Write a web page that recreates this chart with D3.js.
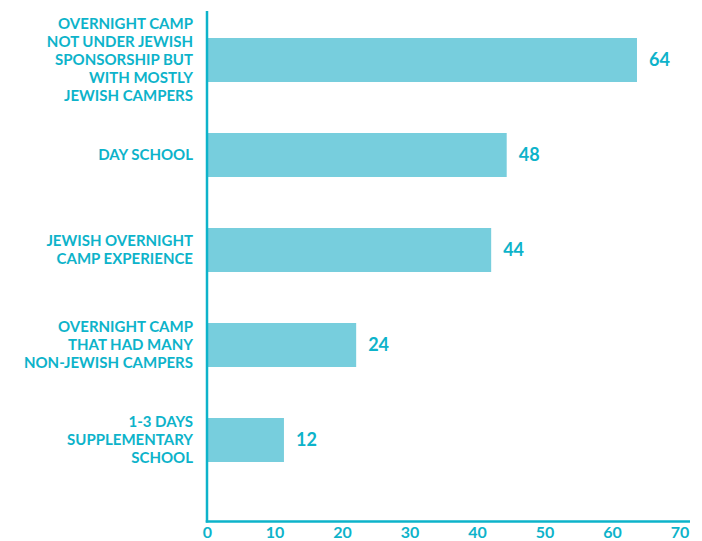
<!DOCTYPE html>
<html><head><meta charset="utf-8">
<script src="https://cdn.jsdelivr.net/npm/d3@7"></script>
<style>
html,body{margin:0;padding:0;background:#fff;}
svg text{font-family:Lato,"Open Sans",sans-serif;font-weight:700;fill:#0db3ca;}
</style></head>
<body>
<svg id="chart" width="702" height="541"></svg>
<script>
const categories = [
  ["OVERNIGHT CAMP","NOT UNDER JEWISH","SPONSORSHIP BUT","WITH MOSTLY","JEWISH CAMPERS"],
  ["DAY SCHOOL"],
  ["JEWISH OVERNIGHT","CAMP EXPERIENCE"],
  ["OVERNIGHT CAMP","THAT HAD MANY","NON-JEWISH CAMPERS"],
  ["1-3 DAYS","SUPPLEMENTARY","SCHOOL"]
];
// bar lengths as drawn against the axis
const barValues = [63.7, 44.4, 42.1, 22.1, 11.4];
// printed data labels
const valueLabels = ["64", "48", "44", "24", "12"];
const tickValues = [0, 10, 20, 30, 40, 50, 60, 70];

const barColor = "#77cedd", inkColor = "#0db3ca";
const svg = d3.select("#chart");
const x = d3.scaleLinear().domain([0, 70]).range([207, 679.5]);
const idx = categories.map((d, i) => i);
const y = d3.scalePoint().domain(idx).range([60, 440]);
const barH = 44;

svg.selectAll("rect.bar").data(idx).join("rect")
  .attr("class", "bar")
  .attr("x", x(0))
  .attr("y", i => y(i) - barH / 2)
  .attr("width", i => x(barValues[i]) - x(0))
  .attr("height", barH)
  .attr("fill", barColor);

svg.selectAll("text.val").data(idx).join("text")
  .attr("class", "val")
  .attr("x", i => x(barValues[i]) + 12)
  .attr("y", i => y(i))
  .attr("dy", "0.35em")
  .style("font-size", "18px")
  .text(i => valueLabels[i]);

const lineH = 18;
svg.selectAll("text.cat").data(idx).join("text")
  .attr("class", "cat")
  .attr("text-anchor", "end")
  .style("font-size", "15px")
  .each(function(i) {
    const lines = categories[i];
    const t = d3.select(this);
    const y0 = y(i) - (lines.length - 1) * lineH / 2;
    lines.forEach((ln, k) => {
      t.append("tspan").attr("x", 193).attr("y", y0 + k * lineH).attr("dy", "0.35em").text(ln);
    });
  });

// axes
svg.append("line").attr("x1", 207).attr("x2", 207).attr("y1", 11).attr("y2", 522.5)
  .attr("stroke", inkColor).attr("stroke-width", 2.5);
svg.append("line").attr("x1", 205.75).attr("x2", 690).attr("y1", 521.5).attr("y2", 521.5)
  .attr("stroke", inkColor).attr("stroke-width", 2.5);

const xAxis = d3.axisBottom(x).tickValues(tickValues).tickSize(0).tickPadding(0);
const gx = svg.append("g").attr("transform", "translate(0,528)").call(xAxis);
gx.select(".domain").remove();
gx.selectAll("text").style("font-size", "16px")
  .attr("fill", inkColor).attr("dy", "0.6em");
</script>
</body></html>
